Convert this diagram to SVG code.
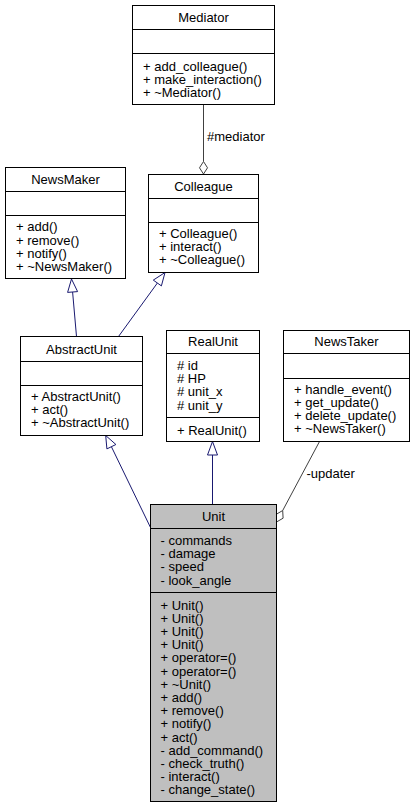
<svg xmlns="http://www.w3.org/2000/svg" width="415" height="809" viewBox="0 0 415 809">
<style>
.box{fill:#ffffff;stroke:#000000;stroke-width:1}
.unit{fill:#bfbfbf;stroke:#000000;stroke-width:1}
.sep{stroke:#000000;stroke-width:1}
text{font-family:"Liberation Sans",Arial,Helvetica,sans-serif;font-size:13px;fill:#000000}
.c{text-anchor:middle}
.inh{stroke:#191970;stroke-width:1;fill:none}
.inhh{stroke:#191970;stroke-width:1;fill:#ffffff}
.agg{stroke:#404040;stroke-width:1;fill:none}
.aggh{stroke:#404040;stroke-width:1;fill:#ffffff}
</style>
<rect width="415" height="809" fill="#ffffff"/>
<g id="connectors">
  <line class="agg" x1="203.5" y1="104.5" x2="203.5" y2="161.5"/>
  <polygon class="aggh" points="203.5,174 199.5,167.8 203.5,161.5 207.5,167.8"/>
  <text x="207" y="141">#mediator</text>
  <line class="inh" x1="76.5" y1="336.5" x2="72.6" y2="292"/>
  <polygon class="inhh" points="71.5,279 77.6,291.6 67.6,292.4"/>
  <line class="inh" x1="118.5" y1="336.5" x2="157.4" y2="283"/>
  <polygon class="inhh" points="165,272.5 161.4,285.9 153.3,280.1"/>
  <line class="inh" x1="150.5" y1="527.5" x2="111.4" y2="446.7"/>
  <polygon class="inhh" points="105.7,435.5 115.9,444.5 106.9,448.9"/>
  <line class="inh" x1="212.5" y1="504.5" x2="212.5" y2="455"/>
  <polygon class="inhh" points="212.5,441.5 217.5,455 207.5,455"/>
  <line class="agg" x1="319.5" y1="441.5" x2="282.7" y2="510.5"/>
  <polygon class="aggh" points="276.5,522 276.1,514.4 282.7,510.5 283.1,518.2"/>
  <text x="306.5" y="478">-updater</text>
</g>
<g id="Mediator">
  <rect class="box" x="132.5" y="5.5" width="142" height="99"/>
  <line class="sep" x1="132.5" y1="29.5" x2="274.5" y2="29.5"/>
  <line class="sep" x1="132.5" y1="53.5" x2="274.5" y2="53.5"/>
  <text class="c" x="203.5" y="21.5">Mediator</text>
  <text x="143" y="70.5">+ add_colleague()</text>
  <text x="143" y="83.5">+ make_interaction()</text>
  <text x="143" y="96.5">+ ~Mediator()</text>
</g>
<g id="Colleague">
  <rect class="box" x="148.5" y="174.5" width="110" height="98"/>
  <line class="sep" x1="148.5" y1="198.5" x2="258.5" y2="198.5"/>
  <line class="sep" x1="148.5" y1="222.5" x2="258.5" y2="222.5"/>
  <text class="c" x="203.5" y="190.5">Colleague</text>
  <text x="159" y="237.5">+ Colleague()</text>
  <text x="159" y="250.7">+ interact()</text>
  <text x="159" y="263.9">+ ~Colleague()</text>
</g>
<g id="NewsMaker">
  <rect class="box" x="5.5" y="167.5" width="120" height="111"/>
  <line class="sep" x1="5.5" y1="191.5" x2="125.5" y2="191.5"/>
  <line class="sep" x1="5.5" y1="215.5" x2="125.5" y2="215.5"/>
  <text class="c" x="65.5" y="183.5">NewsMaker</text>
  <text x="16" y="231.2">+ add()</text>
  <text x="16" y="244.5">+ remove()</text>
  <text x="16" y="257.8">+ notify()</text>
  <text x="16" y="271.1">+ ~NewsMaker()</text>
</g>
<g id="AbstractUnit">
  <rect class="box" x="20.5" y="336.5" width="122" height="99"/>
  <line class="sep" x1="20.5" y1="361.5" x2="142.5" y2="361.5"/>
  <line class="sep" x1="20.5" y1="385.5" x2="142.5" y2="385.5"/>
  <text class="c" x="81.5" y="353.5">AbstractUnit</text>
  <text x="31" y="401">+ AbstractUnit()</text>
  <text x="31" y="414.2">+ act()</text>
  <text x="31" y="427.4">+ ~AbstractUnit()</text>
</g>
<g id="RealUnit">
  <rect class="box" x="166.5" y="330.5" width="93" height="111"/>
  <line class="sep" x1="166.5" y1="353.5" x2="259.5" y2="353.5"/>
  <line class="sep" x1="166.5" y1="417.5" x2="259.5" y2="417.5"/>
  <text class="c" x="213" y="345.5">RealUnit</text>
  <text x="177" y="370"># id</text>
  <text x="177" y="383.2"># HP</text>
  <text x="177" y="396.4"># unit_x</text>
  <text x="177" y="409.6"># unit_y</text>
  <text x="177" y="434.5">+ RealUnit()</text>
</g>
<g id="NewsTaker">
  <rect class="box" x="283.5" y="330.5" width="126" height="111"/>
  <line class="sep" x1="283.5" y1="353.5" x2="409.5" y2="353.5"/>
  <line class="sep" x1="283.5" y1="378.5" x2="409.5" y2="378.5"/>
  <text class="c" x="346.5" y="345.5">NewsTaker</text>
  <text x="294" y="393.5">+ handle_event()</text>
  <text x="294" y="406.7">+ get_update()</text>
  <text x="294" y="419.9">+ delete_update()</text>
  <text x="294" y="433.1">+ ~NewsTaker()</text>
</g>
<g id="Unit">
  <rect class="unit" x="150.5" y="504.5" width="126" height="297"/>
  <line class="sep" x1="150.5" y1="528.5" x2="276.5" y2="528.5"/>
  <line class="sep" x1="150.5" y1="592.5" x2="276.5" y2="592.5"/>
  <text class="c" x="213.5" y="521">Unit</text>
  <text x="160.5" y="545">- commands</text>
  <text x="160.5" y="558.2">- damage</text>
  <text x="160.5" y="571.4">- speed</text>
  <text x="160.5" y="584.6">- look_angle</text>
  <text x="160.5" y="609.5">+ Unit()</text>
  <text x="160.5" y="622.7">+ Unit()</text>
  <text x="160.5" y="635.9">+ Unit()</text>
  <text x="160.5" y="649.1">+ Unit()</text>
  <text x="160.5" y="662.3">+ operator=()</text>
  <text x="160.5" y="675.5">+ operator=()</text>
  <text x="160.5" y="688.7">+ ~Unit()</text>
  <text x="160.5" y="701.9">+ add()</text>
  <text x="160.5" y="715.1">+ remove()</text>
  <text x="160.5" y="728.3">+ notify()</text>
  <text x="160.5" y="741.5">+ act()</text>
  <text x="160.5" y="754.7">- add_command()</text>
  <text x="160.5" y="767.9">- check_truth()</text>
  <text x="160.5" y="781.1">- interact()</text>
  <text x="160.5" y="794.3">- change_state()</text>
</g>
</svg>
